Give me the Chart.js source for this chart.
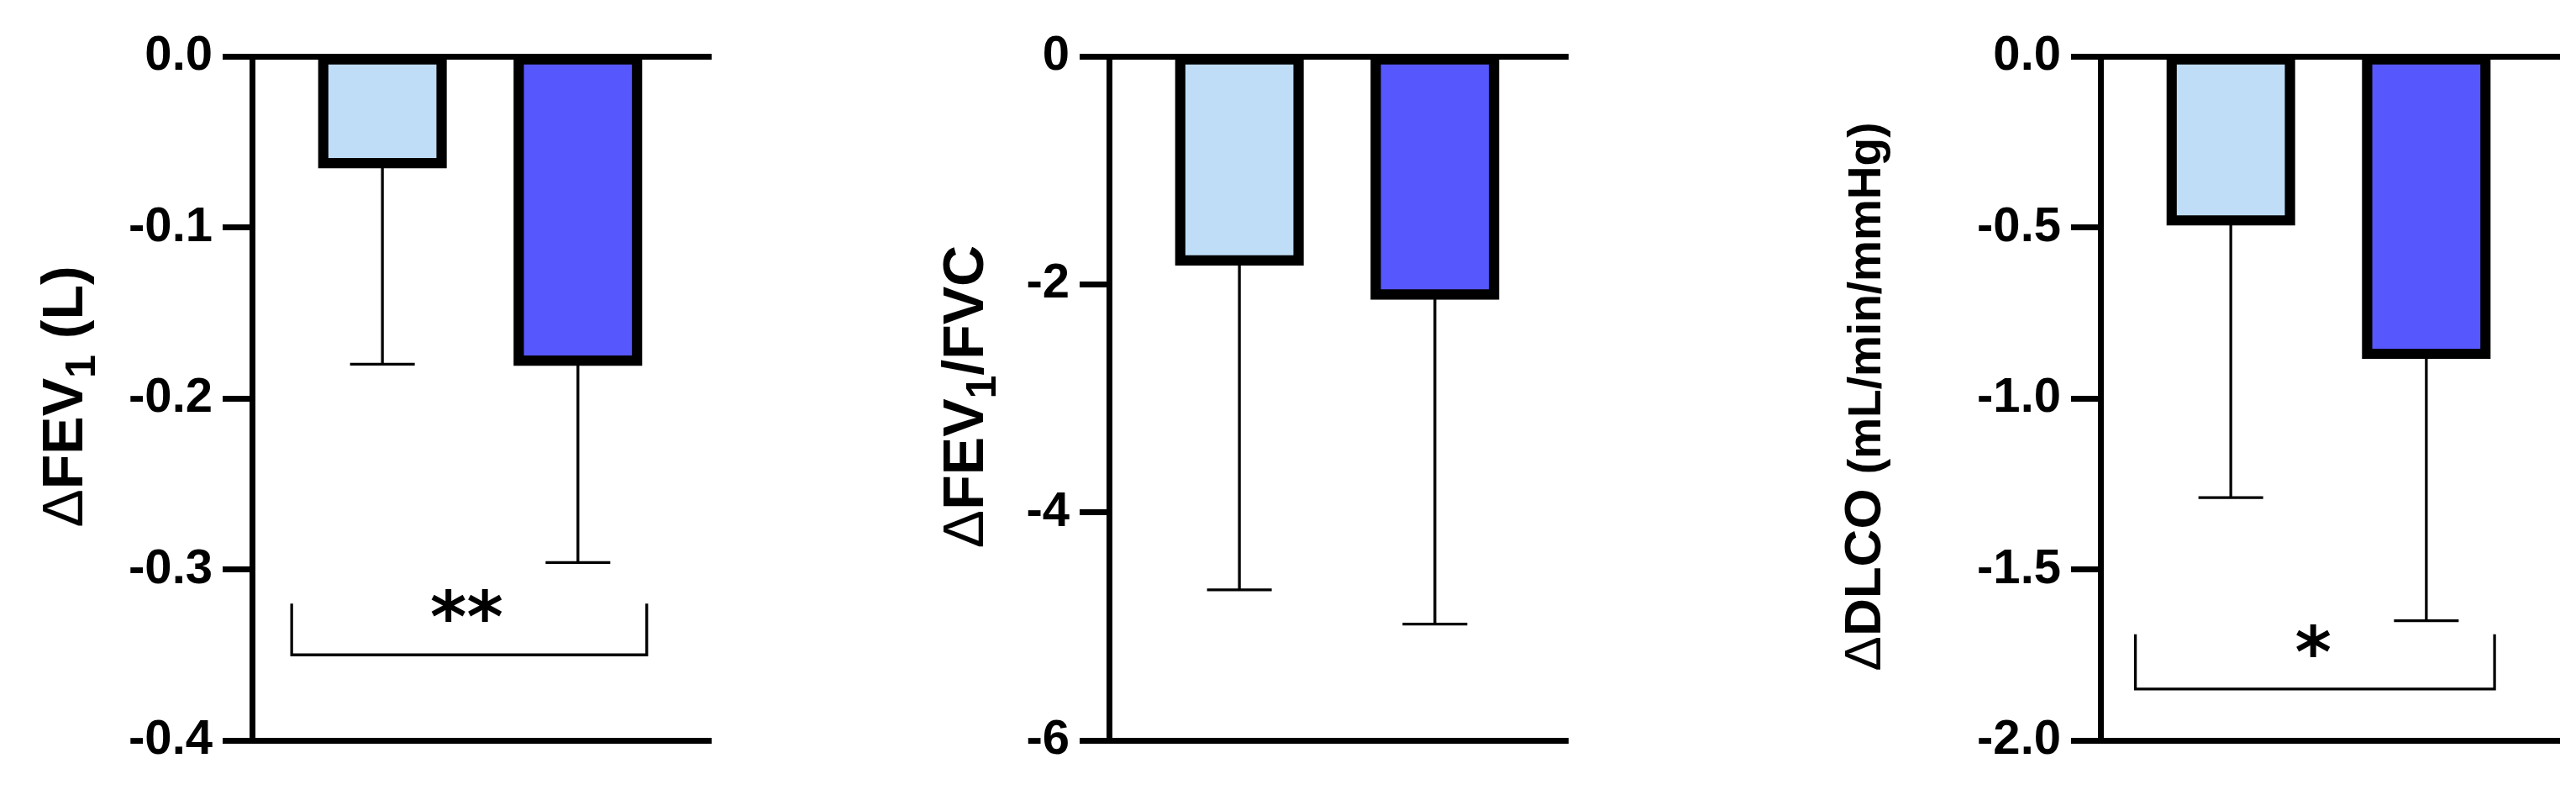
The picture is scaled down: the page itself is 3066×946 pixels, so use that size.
<!DOCTYPE html>
<html>
<head>
<meta charset="utf-8">
<script src="https://cdn.jsdelivr.net/npm/chart.js@4.4.1/dist/chart.umd.min.js"></script>
<style>
  html, body { margin: 0; padding: 0; background: #ffffff; width: 3066px; height: 946px; overflow: hidden; }
  canvas { position: absolute; top: 0; }
</style>
</head>
<body>
<canvas id="c1" width="855" height="946" style="left:0px"></canvas>
<canvas id="c2" width="875" height="946" style="left:1000px"></canvas>
<canvas id="c3" width="905" height="946" style="left:2150px"></canvas>
<script>
// ---------------- DATA ----------------
const groups = ['Group 1', 'Group 2'];
const groupPos = [1, 2];

// Panel 1: ΔFEV1 (L)
const fev1Mean = [-0.0625, -0.178];
const fev1SD = [0.1175, 0.118];
const fev1Ticks = [0, -0.1, -0.2, -0.3, -0.4];
const fev1TickLabels = ['0.0', '-0.1', '-0.2', '-0.3', '-0.4'];
const fev1Title = [['Δ', 'delta'], ['FEV', 'main'], ['1', 'sub'], [' (L)', 'main']];
const fev1BracketX = [0.536, 2.352];
const fev1BracketY = [-0.32, -0.35];
const fev1SigLabel = '**';
const fev1SigAt = [1.43, -0.321];

// Panel 2: ΔFEV1/FVC
const ratioMean = [-1.79, -2.09];
const ratioSD = [2.89, 2.89];
const ratioTicks = [0, -2, -4, -6];
const ratioTickLabels = ['0', '-2', '-4', '-6'];
const ratioTitle = [['Δ', 'delta'], ['FEV', 'main'], ['1', 'sub'], ['/FVC', 'main']];

// Panel 3: ΔDLCO (mL/min/mmHg)
const dlcoMean = [-0.48, -0.87];
const dlcoSD = [0.81, 0.78];
const dlcoTicks = [0, -0.5, -1.0, -1.5, -2.0];
const dlcoTickLabels = ['0.0', '-0.5', '-1.0', '-1.5', '-2.0'];
const dlcoTitle = [['Δ', 'delta'], ['DLCO ', 'main'], ['(mL/min/mmHg)', 'unit']];
const dlcoBracketX = [0.512, 2.349];
const dlcoBracketY = [-1.69, -1.85];
const dlcoSigLabel = '*';
const dlcoSigAt = [1.42, -1.708];

// ---------------- STYLE ----------------
const FONT = '"Liberation Sans", Arial, Helvetica, sans-serif';
const STAR_FONT = '"DejaVu Sans", sans-serif';
const barColors = ['#BFDDF7', '#5757FE'];
const AXIS_W = 7;
const ERR_W = 3.3;
const CAP_HALF = 38.5;
const STAR_H = 39;
const PLOT_W = 543;
const TITLE_CY = 472;

const panels = [
  {
    id: 'c1', yWidth: 300, min: -0.4, max: 0,
    mean: fev1Mean, sd: fev1SD, ticks: fev1Ticks, labels: fev1TickLabels,
    title: fev1Title, titleX: 98.3,
    titleStyle: {
      delta: { size: 68, shift: 0, weight: 'normal' },
      main: { size: 68, shift: 0, weight: 'bold' },
      sub: { size: 50, shift: 15, weight: 'bold' }
    },
    bracket: { x: fev1BracketX, y: fev1BracketY, label: fev1SigLabel, at: fev1SigAt }
  },
  {
    id: 'c2', yWidth: 320, min: -6, max: 0,
    mean: ratioMean, sd: ratioSD, ticks: ratioTicks, labels: ratioTickLabels,
    title: ratioTitle, titleX: 170,
    titleStyle: {
      delta: { size: 68, shift: 0, weight: 'normal' },
      main: { size: 68, shift: 0, weight: 'bold' },
      sub: { size: 50, shift: 15, weight: 'bold' }
    },
    bracket: null
  },
  {
    id: 'c3', yWidth: 350, min: -2, max: 0,
    mean: dlcoMean, sd: dlcoSD, ticks: dlcoTicks, labels: dlcoTickLabels,
    title: dlcoTitle, titleX: 88.4,
    titleStyle: {
      delta: { size: 62, shift: 0, weight: 'normal' },
      main: { size: 62, shift: 0, weight: 'bold' },
      unit: { size: 55, shift: 0, weight: 'bold' }
    },
    bracket: { x: dlcoBracketX, y: dlcoBracketY, label: dlcoSigLabel, at: dlcoSigAt }
  }
];

function makeExtras(p) {
  return {
    id: 'extras',
    afterDatasetsDraw(chart) {
      const ctx = chart.ctx;
      const xs = chart.scales.x, ys = chart.scales.y;
      ctx.save();
      ctx.strokeStyle = '#000';
      ctx.fillStyle = '#000';
      ctx.lineWidth = ERR_W;
      ctx.lineCap = 'butt';
      ctx.lineJoin = 'miter';
      p.mean.forEach((m, i) => {
        const px = xs.getPixelForValue(groupPos[i]);
        const y0 = ys.getPixelForValue(m);
        const y1 = ys.getPixelForValue(m - p.sd[i]);
        ctx.beginPath();
        ctx.moveTo(px, y0); ctx.lineTo(px, y1);
        ctx.moveTo(px - CAP_HALF, y1); ctx.lineTo(px + CAP_HALF, y1);
        ctx.stroke();
      });
      if (p.bracket) {
        const b = p.bracket;
        const xl = xs.getPixelForValue(b.x[0]), xr = xs.getPixelForValue(b.x[1]);
        const yt = ys.getPixelForValue(b.y[0]), yb = ys.getPixelForValue(b.y[1]);
        ctx.beginPath();
        ctx.moveTo(xl, yt); ctx.lineTo(xl, yb); ctx.lineTo(xr, yb); ctx.lineTo(xr, yt);
        ctx.stroke();
        // significance stars, sized from glyph metrics
        ctx.font = `bold 100px ${STAR_FONT}`;
        let m = ctx.measureText('*');
        const h100 = m.actualBoundingBoxAscent + m.actualBoundingBoxDescent;
        const size = 100 * STAR_H / h100;
        ctx.font = `bold ${size}px ${STAR_FONT}`;
        m = ctx.measureText(b.label);
        const w = m.actualBoundingBoxLeft + m.actualBoundingBoxRight;
        const h = m.actualBoundingBoxAscent + m.actualBoundingBoxDescent;
        const sx = xs.getPixelForValue(b.at[0]);
        const sy = ys.getPixelForValue(b.at[1]);
        ctx.textAlign = 'left';
        ctx.textBaseline = 'alphabetic';
        ctx.fillText(b.label, sx - w / 2 + m.actualBoundingBoxLeft, sy + h / 2 - m.actualBoundingBoxDescent);
      }
      ctx.restore();
    },
    afterDraw(chart) {
      const ctx = chart.ctx;
      ctx.save();
      ctx.translate(p.titleX, TITLE_CY);
      ctx.rotate(-Math.PI / 2);
      ctx.fillStyle = '#000';
      ctx.textAlign = 'left';
      ctx.textBaseline = 'alphabetic';
      const segs = p.title.map(([text, role]) => ({ text, st: p.titleStyle[role] }));
      let total = 0;
      segs.forEach(s => {
        ctx.font = `${s.st.weight} ${s.st.size}px ${FONT}`;
        s.w = ctx.measureText(s.text).width;
        total += s.w;
      });
      let cx = -total / 2;
      segs.forEach(s => {
        ctx.font = `${s.st.weight} ${s.st.size}px ${FONT}`;
        ctx.fillText(s.text, cx, s.st.shift);
        cx += s.w;
      });
      ctx.restore();
    }
  };
}

function xAxis(position) {
  return {
    type: 'linear', position, axis: 'x', min: 1 / 3, max: 8 / 3, offset: false,
    ticks: { display: false },
    grid: { display: false, drawTicks: false, lineWidth: AXIS_W },
    border: { display: true, width: AXIS_W, color: '#000' },
    afterFit: s => { s.height = 0; }
  };
}

panels.forEach(p => {
  const canvas = document.getElementById(p.id);
  new Chart(canvas, {
    type: 'bar',
    data: {
      labels: groups,
      datasets: [{
        label: 'mean',
        data: p.mean.map((v, i) => ({ x: groupPos[i], y: v })),
        backgroundColor: barColors,
        borderColor: '#000',
        borderWidth: 12.4,
        inflateAmount: 6.2,
        borderSkipped: false,
        barThickness: 141,
        clip: 0
      }]
    },
    options: {
      responsive: false,
      animation: false,
      events: [],
      layout: { padding: { left: 0, right: canvas.width - p.yWidth - PLOT_W, top: 67, bottom: 946 - 881 } },
      plugins: { legend: { display: false }, tooltip: { enabled: false }, title: { display: false } },
      scales: {
        x: xAxis('bottom'),
        xTop: xAxis('top'),
        y: {
          type: 'linear', position: 'left', min: p.min, max: p.max,
          afterBuildTicks: s => { s.ticks = p.ticks.map(v => ({ value: v })); },
          ticks: {
            autoSkip: false,
            callback: (v, i) => p.labels[i],
            font: { family: FONT, size: 58, weight: 'bold' },
            color: '#000',
            padding: 12
          },
          grid: { drawOnChartArea: false, drawTicks: true, tickLength: 35, lineWidth: AXIS_W, color: '#000' },
          border: { display: true, width: AXIS_W, color: '#000' },
          title: { display: false },
          afterFit: s => { s.width = p.yWidth; }
        }
      }
    },
    plugins: [makeExtras(p)]
  });
});
</script>
</body>
</html>
